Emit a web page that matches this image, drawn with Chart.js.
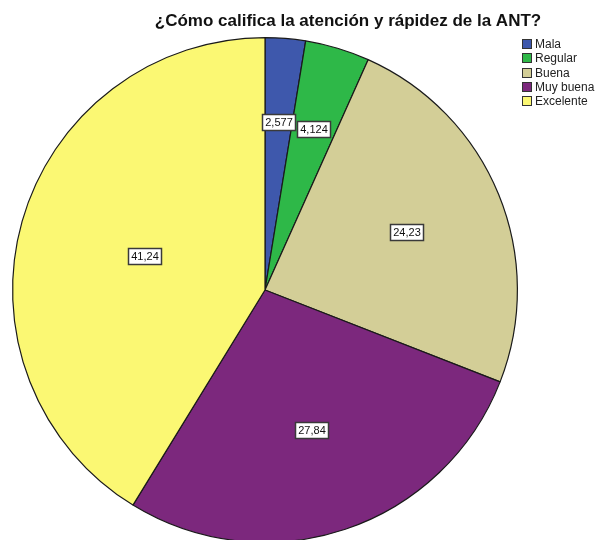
<!DOCTYPE html>
<html>
<head>
<meta charset="utf-8">
<script src="https://cdn.jsdelivr.net/npm/chart.js@4.4.1/dist/chart.umd.min.js"></script>
<style>
html,body{margin:0;padding:0;background:#fff;overflow:hidden;}
#wrap{width:596px;height:560px;}
</style>
</head>
<body>
<div id="wrap"><canvas id="c" width="596" height="560"></canvas></div>
<script>
const titleText = "¿Cómo califica la atención y rápidez de la ANT?";
const categories = ["Mala", "Regular", "Buena", "Muy buena", "Excelente"];
const values = [2.577, 4.124, 24.23, 27.84, 41.24];
const valueLabels = ["2,577", "4,124", "24,23", "27,84", "41,24"];
const colors = ["#3E58AC", "#2EB848", "#D3CE97", "#7C287D", "#FBF873"];

const FONT = '"Liberation Sans", Arial, sans-serif';

const overlay = {
  id: 'overlay',
  afterDatasetsDraw(chart) {
    const ctx = chart.ctx;
    const meta = chart.getDatasetMeta(0);
    ctx.save();
    // slice labels at sector centroid
    ctx.font = '11px ' + FONT;
    ctx.textAlign = 'center';
    ctx.textBaseline = 'middle';
    meta.data.forEach((arc, i) => {
      const p = arc.getProps(['x', 'y', 'startAngle', 'endAngle', 'outerRadius'], true);
      const a = p.endAngle - p.startAngle;
      const mid = (p.startAngle + p.endAngle) / 2;
      const d = (4 * p.outerRadius * Math.sin(a / 2)) / (3 * a);
      const cx = p.x + Math.cos(mid) * d;
      const cy = p.y + Math.sin(mid) * d;
      const txt = valueLabels[i];
      const w = Math.round(ctx.measureText(txt).width) + 5;
      const h = 16;
      const bx = Math.round(cx - w / 2) + 0.5, by = Math.round(cy - h / 2) + 0.5;
      ctx.fillStyle = '#ffffff';
      ctx.fillRect(bx, by, w, h);
      ctx.strokeStyle = '#3a3a3a';
      ctx.lineWidth = 1.5;
      ctx.strokeRect(bx, by, w, h);
      ctx.fillStyle = '#111';
      ctx.fillText(txt, bx + w / 2, by + h / 2 + 0.5);
    });
    // title
    ctx.font = 'bold 17px ' + FONT;
    ctx.fillStyle = '#111';
    ctx.textAlign = 'center';
    ctx.textBaseline = 'alphabetic';
    ctx.fillText(titleText, 348, 26);
    // legend
    ctx.font = '12px ' + FONT;
    ctx.textAlign = 'left';
    ctx.textBaseline = 'middle';
    categories.forEach((c, i) => {
      const y = 39 + i * 14.3;
      const sy = Math.round(y) + 0.5;
      ctx.fillStyle = colors[i];
      ctx.fillRect(522.5, sy, 9, 9);
      ctx.strokeStyle = '#333';
      ctx.lineWidth = 1;
      ctx.strokeRect(522.5, sy, 9, 9);
      ctx.fillStyle = '#222';
      ctx.fillText(c, 535, sy + 5);
    });
    ctx.restore();
  }
};

new Chart(document.getElementById('c'), {
  type: 'pie',
  data: {
    labels: categories,
    datasets: [{
      data: values,
      backgroundColor: colors,
      borderColor: '#1a1a1a',
      borderWidth: 1.2
    }]
  },
  options: {
    responsive: false,
    animation: false,
    layout: { padding: { left: 12, top: 37, right: 78, bottom: 17 } },
    plugins: {
      legend: { display: false },
      title: { display: false },
      tooltip: { enabled: false }
    }
  },
  plugins: [overlay]
});
</script>
</body>
</html>
